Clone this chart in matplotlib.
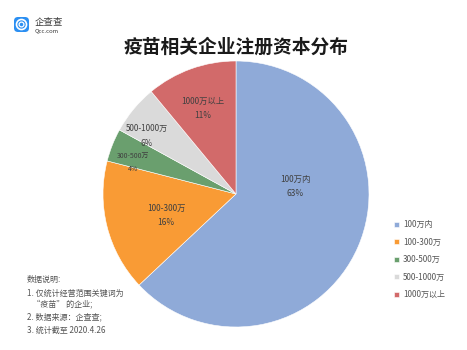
import matplotlib
matplotlib.use("Agg")
import matplotlib.pyplot as plt
from matplotlib.patches import FancyBboxPatch, Circle
import numpy as np

plt.rcParams['font.family'] = ['Noto Sans CJK SC', 'DejaVu Sans']

categories = ['100万内', '100-300万', '300-500万', '500-1000万', '1000万以上']
values = [63, 16, 4, 6, 11]
pct_labels = ['63%', '16%', '4%', '6%', '11%']
colors = ['#8faad8', '#f99b35', '#6a9f6e', '#dadada', '#d26a6a']
title = '疫苗相关企业注册资本分布'
notes = ['数据说明:', '1. 仅统计经营范围关键词为', '   “疫苗” 的企业;', '2. 数据来源：企查查;', '3. 统计截至 2020.4.26']

W, H = 467, 350
fig = plt.figure(figsize=(W / 100, H / 100), dpi=100)
fig.patch.set_facecolor('white')

cx, cy, r = 236, 194, 133
ax = fig.add_axes([(cx - r) / W, (H - cy - r) / H, 2 * r / W, 2 * r / H])
wedges, _ = ax.pie(values, colors=colors, startangle=90, counterclock=False,
                   radius=1.0, wedgeprops=dict(edgecolor='white', linewidth=0.4))
ax.set_xlim(-1, 1)
ax.set_ylim(-1, 1)
ax.set_aspect('equal')
ax.axis('off')

# label placement (radial distance, angle in degrees)
label_pos = [(0.45, 7), (0.55, 197), (0.81, 163), (0.80, 147), (0.69, 111)]
label_sizes = [6.0, 6.0, 5.0, 5.8, 6.0]
for cat, pct, (d, a), fs in zip(categories, pct_labels, label_pos, label_sizes):
    x = d * np.cos(np.radians(a))
    y = d * np.sin(np.radians(a))
    ax.text(x, y, f'{cat}\n{pct}', ha='center', va='center', fontsize=fs,
            color='#404040', linespacing=1.75)

fig.text(236 / W, 1 - 47 / H, title, ha='center', va='center', fontsize=13.5,
         fontweight='bold', color='#1a1a1a')

leg = fig.legend(wedges, categories, loc='upper left',
                 bbox_to_anchor=(391 / W, 1 - 217 / H), frameon=False,
                 fontsize=5.8, handlelength=0.6, handleheight=0.6,
                 handletextpad=0.5, labelspacing=1.05, borderaxespad=0)
for t in leg.get_texts():
    t.set_color('#555555')

note_y = [279, 293, 304, 317, 330]
for line, y in zip(notes, note_y):
    fig.text(27 / W, 1 - y / H, line, ha='left', va='center', fontsize=5.8,
             color='#555555')

# logo
lax = fig.add_axes([0, 0, 1, 1], facecolor='none')
lax.set_xlim(0, W)
lax.set_ylim(H, 0)
lax.axis('off')
lax.add_patch(FancyBboxPatch((14, 17), 15, 15, boxstyle='round,pad=0,rounding_size=4',
                             facecolor='#2b8ff2', edgecolor='none'))
lax.add_patch(Circle((21.5, 24.5), 5.0, facecolor='none', edgecolor='white', linewidth=1.2))
lax.add_patch(Circle((21.5, 24.5), 2.4, facecolor='none', edgecolor='white', linewidth=0.9))
lax.text(35, 22, '企查查', fontsize=6.8, color='#3a3a3a', va='center', ha='left')
lax.text(35, 31, 'Qcc.com', fontsize=4.3, color='#3a3a3a', va='center', ha='left')

fig.savefig('out.png', dpi=100, facecolor='white')
